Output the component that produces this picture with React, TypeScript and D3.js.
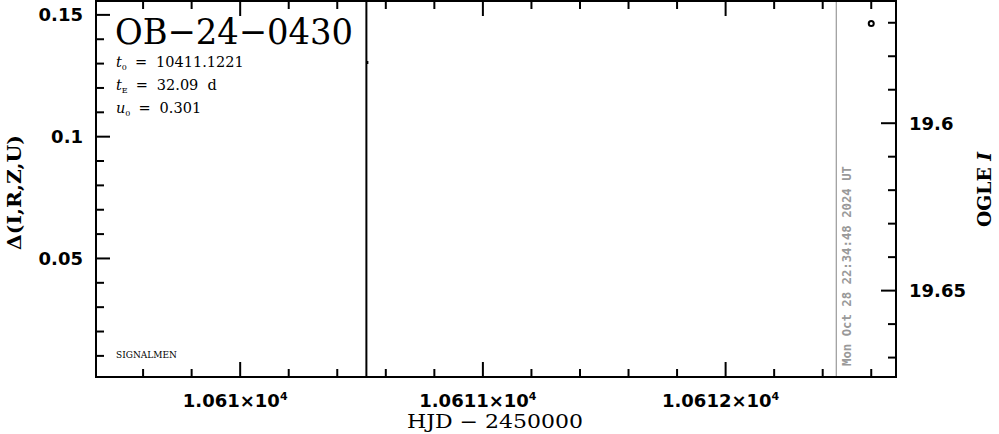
import React from "react";
import * as d3 from "d3";

const W = 999, H = 434;
const plot = { left: 96, right: 896, top: 1, bottom: 377 };

const xDomain = [10609.406, 10612.702];
const leftDomain = [0.00133, 0.1557];
const rightDomain = [19.5635, 19.6758];

const xMajorTicks = [10610, 10611, 10612];
const xTickLabels = ["1.061", "1.0611", "1.0612"];
const leftMajorTicks = [0.05, 0.1, 0.15];
const leftTickLabels = ["0.05", "0.1", "0.15"];
const rightMajorTicks = [19.6, 19.65];
const rightTickLabels = ["19.6", "19.65"];

const obsHJD = [10612.6];
const obsMag = [19.5702];
const markerLineHJD = 10610.52;
const nowHJD = 10612.456;

const title = "OB−24−0430";
const paramLines = [
  { sym: "t", sub: "0", val: "10411.1221" },
  { sym: "t", sub: "E", val: "32.09\u00A0\u00A0d" },
  { sym: "u", sub: "0", val: "0.301" },
];

function range(a: number, b: number, step: number) {
  const out: number[] = [];
  const n = Math.round((b - a) / step);
  for (let i = 0; i <= n; i++) out.push(+(a + i * step).toFixed(6));
  return out;
}

export default function App() {
  const x = d3.scaleLinear().domain(xDomain).range([plot.left, plot.right]);
  const yL = d3.scaleLinear().domain(leftDomain).range([plot.bottom, plot.top]);
  const yR = d3.scaleLinear().domain(rightDomain).range([plot.top, plot.bottom]);

  const xMinor = range(10609.4, 10612.8, 0.2).filter(
    (v) => v > xDomain[0] && v < xDomain[1]
  );
  const lMinor = range(0.01, 0.15, 0.01).filter((v) => v > leftDomain[0] && v < leftDomain[1]);
  const rMinor = range(19.57, 19.67, 0.01).filter((v) => v > rightDomain[0] && v < rightDomain[1]);

  const isMajor = (v: number, arr: number[]) => arr.some((m) => Math.abs(m - v) < 1e-6);

  const tickFont = "'DejaVu Sans', sans-serif";
  const serif = "'DejaVu Serif', 'Liberation Serif', serif";
  const mono = "'DejaVu Sans Mono', monospace";

  return (
    <svg width={W} height={H} style={{ position: "absolute", left: 0, top: 0, background: "#fff" }}>
      {/* now line */}
      <line x1={x(nowHJD)} x2={x(nowHJD)} y1={plot.top} y2={plot.bottom} stroke="#999" strokeWidth={1.2} />
      <text
        transform={`translate(${x(nowHJD) + 15},${266}) rotate(-90)`}
        textAnchor="middle"
        fontFamily={mono}
        fontWeight="bold"
        fontSize={12.5}
        fill="#999"
        textLength={200}
        lengthAdjust="spacingAndGlyphs"
      >
        Mon Oct 28 22:34:48 2024 UT
      </text>
      {/* marker line */}
      <line x1={x(markerLineHJD)} x2={x(markerLineHJD)} y1={plot.top} y2={plot.bottom} stroke="#000" strokeWidth={2} />
      <rect x={x(markerLineHJD)} y={61} width={2} height={3} fill="#000" />

      {/* x ticks bottom & top */}
      {xMinor.map((v) => {
        const major = isMajor(v, xMajorTicks);
        const len = major ? 15 : 8;
        return (
          <g key={"x" + v}>
            <line x1={x(v)} x2={x(v)} y1={plot.bottom} y2={plot.bottom - len} stroke="#000" strokeWidth={2} />
            <line x1={x(v)} x2={x(v)} y1={plot.top} y2={plot.top + len} stroke="#000" strokeWidth={2} />
          </g>
        );
      })}
      {/* left ticks */}
      {lMinor.map((v) => {
        const len = isMajor(v, leftMajorTicks) ? 14 : 8;
        return <line key={"l" + v} x1={plot.left} x2={plot.left + len} y1={yL(v)} y2={yL(v)} stroke="#000" strokeWidth={2} />;
      })}
      {/* right ticks */}
      {rMinor.map((v) => {
        const len = isMajor(v, rightMajorTicks) ? 15 : 8;
        return <line key={"r" + v} x1={plot.right} x2={plot.right - len} y1={yR(v)} y2={yR(v)} stroke="#000" strokeWidth={2} />;
      })}

      {/* frame */}
      <rect
        x={plot.left}
        y={plot.top}
        width={plot.right - plot.left}
        height={plot.bottom - plot.top}
        fill="none"
        stroke="#000"
        strokeWidth={2}
      />

      {/* tick labels */}
      {xMajorTicks.map((v, i) => (
        <text key={"xl" + v} x={x(v) - 5} y={407} textAnchor="middle" fontFamily={tickFont} fontWeight="bold" fontSize={18}>
          {xTickLabels[i]}×10
          <tspan dy={-7} fontSize={11}>4</tspan>
        </text>
      ))}
      {leftMajorTicks.map((v, i) => (
        <text key={"ll" + v} x={83} y={yL(v) + 6.5} textAnchor="end" fontFamily={tickFont} fontWeight="bold" fontSize={18}>
          {leftTickLabels[i]}
        </text>
      ))}
      {rightMajorTicks.map((v, i) => (
        <text key={"rl" + v} x={909} y={yR(v) + 6.5} textAnchor="start" fontFamily={tickFont} fontWeight="bold" fontSize={18}>
          {rightTickLabels[i]}
        </text>
      ))}

      {/* axis titles */}
      <text x={407} y={428} fontFamily={serif} fontSize={19} textLength={176} lengthAdjust="spacingAndGlyphs">
        HJD − 2450000
      </text>
      <text
        transform={`translate(${21},${250}) rotate(-90)`}
        fontFamily={serif}
        fontWeight="bold"
        fontSize={18}
        textLength={115}
        lengthAdjust="spacingAndGlyphs"
      >
        Δ(I,R,Z,U)
      </text>
      <text
        transform={`translate(${991},${227}) rotate(-90)`}
        fontFamily={serif}
        fontWeight="bold"
        fontSize={18}
        textLength={75}
        lengthAdjust="spacingAndGlyphs"
      >
        OGLE <tspan fontStyle="italic">I</tspan>
      </text>

      {/* title and params */}
      <text x={115} y={44} fontFamily={serif} fontSize={36} textLength={238} lengthAdjust="spacingAndGlyphs">
        {title}
      </text>
      {paramLines.map((p, i) => (
        <text key={"p" + i} x={116} y={67 + i * 23} fontFamily={serif} fontSize={14.5}>
          <tspan fontStyle="italic">{p.sym}</tspan>
          <tspan dy={3} fontSize={8}>{p.sub}</tspan>
          <tspan dy={-3} dx={8}>=</tspan>
          <tspan dx={9}>{p.val}</tspan>
        </text>
      ))}
      <text x={116} y={358} fontFamily={serif} fontSize={9}>
        SIGNALMEN
      </text>

      {/* data points */}
      {obsHJD.map((t, i) => (
        <circle key={"o" + i} cx={x(t)} cy={yR(obsMag[i])} r={2.5} fill="none" stroke="#000" strokeWidth={2} />
      ))}
    </svg>
  );
}
